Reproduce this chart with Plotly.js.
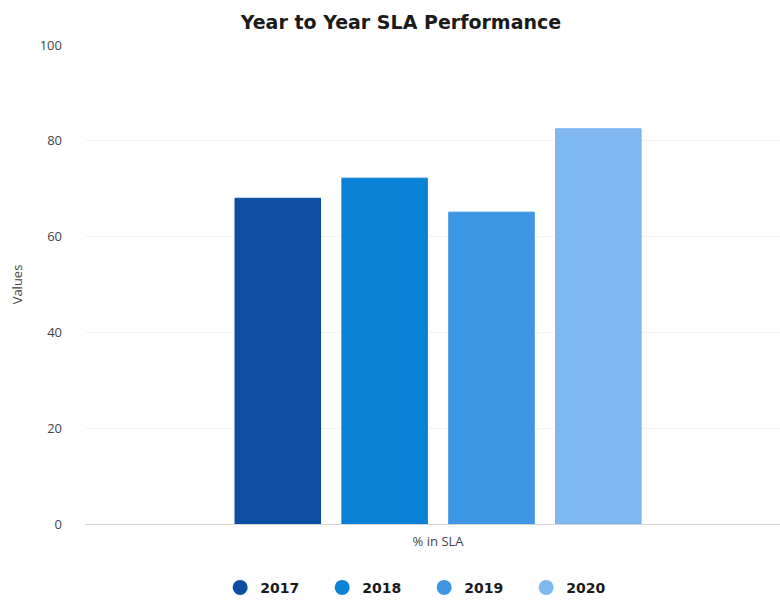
<!DOCTYPE html>
<html>
<head>
<meta charset="utf-8">
<script src="https://cdn.plot.ly/plotly-3.0.1.min.js"></script>
<style>html,body{margin:0;padding:0;background:#fff;}#chart{width:780px;height:601px;}</style>
</head>
<body>
<div id="chart"></div>
<script>
const category = ["% in SLA"];
const years = ["2017", "2018", "2019", "2020"];
const values2017 = [68];
const values2018 = [72.2];
const values2019 = [65.1];
const values2020 = [82.5];
const colors = ["#0b4ea2", "#0a82d6", "#3d97e3", "#7eb8ef"];
const lineColors = ["#0a47a0", "#0b7fd4", "#3a93e0", "#73b2ee"];

const seriesValues = [values2017, values2018, values2019, values2020];
const traces = years.map((y, i) => ({
  type: "bar",
  name: y,
  x: category,
  y: seriesValues[i],
  marker: {color: colors[i], line: {color: lineColors[i], width: 1}},
  hoverinfo: "name+y"
}));

const layout = {
  width: 780,
  height: 601,
  paper_bgcolor: "#ffffff",
  plot_bgcolor: "#ffffff",
  font: {family: "Open Sans, sans-serif", color: "#333"},
  title: {
    text: "<b>Year to Year SLA Performance</b>",
    font: {size: 19, color: "#1a1a1a", family: "DejaVu Sans, sans-serif"},
    x: 0.514, xanchor: "center", y: 0.962, yanchor: "middle"
  },
  margin: {l: 85, r: 0, t: 45, b: 77},
  barmode: "group",
  bargap: 0.385,
  bargroupgap: 0.2,
  xaxis: {
    range: [-0.508, 0.492],
    showgrid: false,
    zeroline: false,
    showline: false,
    ticks: "",
    ticklabelstandoff: 8,
    tickfont: {size: 13, color: "#444"},
    fixedrange: true
  },
  yaxis: {
    range: [0, 100],
    dtick: 20,
    tick0: 0,
    showgrid: true,
    gridcolor: "#f4f4f4",
    gridwidth: 1,
    zeroline: true,
    zerolinecolor: "#d6d6d6",
    zerolinewidth: 1,
    showline: false,
    ticks: "",
    ticklabelstandoff: 22,
    tickfont: {size: 13, color: "#444"},
    title: {text: "Values", font: {size: 13, color: "#444"}, standoff: 14},
    fixedrange: true
  },
  legend: {
    orientation: "h",
    x: 0.488, xanchor: "center",
    yref: "container",
    y: 0.022, yanchor: "middle",
    font: {size: 14, color: "#1a1a1a", family: "DejaVu Sans, sans-serif", weight: "bold"},
    itemwidth: 30,
    entrywidth: 57,
    entrywidthmode: "pixels",
    traceorder: "normal"
  },
  showlegend: true
};

Plotly.newPlot("chart", traces, layout, {displayModeBar: false, staticPlot: true}).then(() => {
  document.querySelectorAll(".legendpoints path").forEach(p => {
    p.setAttribute("d", "M7.5,0A7.5,7.5 0 1,1 -7.5,0A7.5,7.5 0 1,1 7.5,0Z");
    p.style.strokeWidth = "0";
  });
});
</script>
</body>
</html>
